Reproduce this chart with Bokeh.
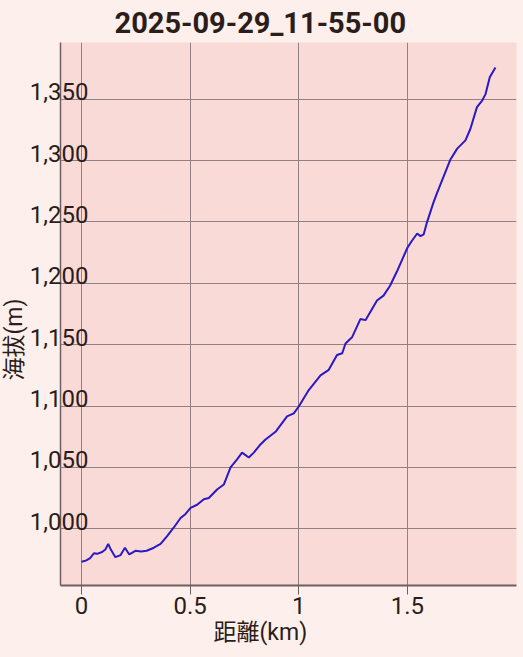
from bokeh.plotting import figure
from bokeh.models import (Range1d, LinearAxis, Grid, FixedTicker, NumeralTickFormatter,
                          Title, ColumnDataSource)
from bokeh.embed import file_html
from bokeh.resources import INLINE

# ---- data ----
distance_km = [0.000, 0.020, 0.040, 0.057, 0.072, 0.095, 0.110, 0.123, 0.135, 0.156,
               0.180, 0.200, 0.220, 0.248, 0.275, 0.300, 0.333, 0.364, 0.394, 0.425,
               0.456, 0.479, 0.502, 0.532, 0.563, 0.586, 0.624, 0.655, 0.686, 0.716,
               0.739, 0.770, 0.793, 0.820, 0.847, 0.893, 0.946, 0.977, 1.000, 1.046,
               1.100, 1.138, 1.176, 1.200, 1.215, 1.245, 1.284, 1.307, 1.360, 1.390,
               1.420, 1.450, 1.500, 1.520, 1.545, 1.560, 1.575, 1.590, 1.620, 1.637,
               1.698, 1.729, 1.767, 1.790, 1.820, 1.844, 1.859, 1.879, 1.905]
elevation_m = [973.0, 974.0, 976.0, 980.0, 979.5, 981.0, 983.0, 987.6, 983.0, 976.8,
               978.5, 984.5, 979.0, 982.0, 981.5, 982.0, 984.5, 987.6, 994.0, 1001.0,
               1008.7, 1012.0, 1017.0, 1019.5, 1024.0, 1025.0, 1032.0, 1036.0, 1050.0, 1056.5,
               1062.0, 1058.0, 1062.0, 1068.0, 1072.7, 1079.0, 1091.5, 1094.0, 1099.6, 1113.0,
               1125.0, 1129.5, 1141.6, 1143.0, 1151.0, 1156.0, 1171.0, 1170.0, 1186.0, 1190.0,
               1198.0, 1209.0, 1229.0, 1234.5, 1240.6, 1238.5, 1240.0, 1249.7, 1266.0, 1274.0,
               1301.0, 1309.8, 1316.5, 1326.0, 1343.6, 1349.0, 1354.0, 1368.0, 1376.0]
x_ticks = [0, 0.5, 1, 1.5]
y_ticks = [1000, 1050, 1100, 1150, 1200, 1250, 1300, 1350]
title_text = "2025-09-29_11-55-00"
x_label = "距離(km)"
y_label = "海拔(m)"

PAGE_BG = "#FDF0EC"
PLOT_BG = "#F9DAD6"
GRID = "#948083"
AXIS = "#6F5F62"
TEXT = "#2B1D1A"
FONT = "Roboto, 'Noto Sans CJK JP'"

x0, x1 = -0.0966, 2.002
y0, y1 = 953.7, 1396.3
label_shift = 6.0

p = figure(width=523, height=657, x_range=Range1d(x0, x1), y_range=Range1d(y0, y1),
           output_backend="svg", toolbar_location=None, y_axis_location=None,
           min_border_left=60, min_border_right=7, min_border_top=40, min_border_bottom=72)
p.background_fill_color = PLOT_BG
p.border_fill_color = PAGE_BG
p.outline_line_color = None

# remove default grids, add explicit ones
p.center = [r for r in p.center if not isinstance(r, Grid)]
p.add_layout(Grid(dimension=0, ticker=FixedTicker(ticks=x_ticks), grid_line_color=GRID,
                  grid_line_width=1))
p.add_layout(Grid(dimension=1, ticker=FixedTicker(ticks=y_ticks), grid_line_color=GRID,
                  grid_line_width=1))

# x axis
xa = p.xaxis[0]
xa.ticker = FixedTicker(ticks=x_ticks)
xa.formatter = NumeralTickFormatter(format="0.[0]")
xa.axis_line_color = AXIS
xa.axis_line_width = 2
xa.major_tick_out = 9
xa.major_tick_in = 0
xa.major_tick_line_color = AXIS
xa.minor_tick_line_color = None
xa.major_label_standoff = 2
xa.major_label_text_font = FONT
xa.major_label_text_font_size = "24px"
xa.major_label_text_color = TEXT

# y axis (labels sit on top of their grid lines)
p.extra_y_ranges = {"lab": Range1d(y0 - label_shift, y1 - label_shift)}
ya = LinearAxis(y_range_name="lab", ticker=FixedTicker(ticks=y_ticks),
                formatter=NumeralTickFormatter(format="0,0"))
ya.axis_line_color = AXIS
ya.axis_line_width = 1.5
ya.major_tick_out = 0
ya.major_tick_in = 0
ya.minor_tick_line_color = None
ya.major_label_standoff = -28
ya.major_label_text_font = FONT
ya.major_label_text_font_size = "24px"
ya.major_label_text_color = TEXT
p.add_layout(ya, "left")

# chart title
p.title.text = title_text
p.title.align = "left"
p.title.offset = 54
p.title.standoff = 6
p.title.text_font = FONT
p.title.text_font_size = "29px"
p.title.text_font_style = "bold"
p.title.text_color = TEXT

# axis titles
p.add_layout(Title(text=y_label, align="left", offset=205, standoff=-3, text_font=FONT,
                   text_font_size="23px", text_font_style="normal", text_color=TEXT), "left")
p.add_layout(Title(text=x_label, align="left", offset=153, standoff=0, text_font=FONT,
                   text_font_size="23px", text_font_style="normal", text_color=TEXT), "below")

src = ColumnDataSource(data=dict(d=distance_km, e=elevation_m))
p.line("d", "e", source=src, line_color="#2A19C4", line_width=2)

html = file_html(p, INLINE, title="elevation")
i = html.rfind("<body>")
html = html[:i] + '<body style="background-color:%s;">' % PAGE_BG + html[i + 6:]
open("out.html", "w").write(html)
